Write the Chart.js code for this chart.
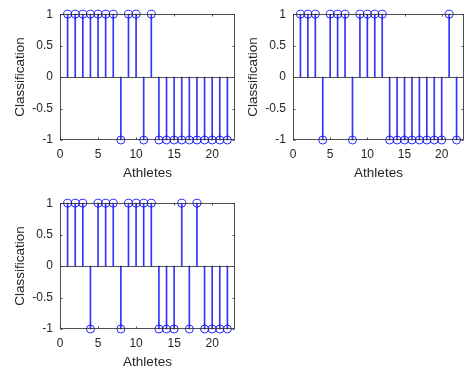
<!DOCTYPE html>
<html>
<head>
<meta charset="utf-8">
<script src="https://cdn.jsdelivr.net/npm/chart.js@4"></script>
<style>
html,body{margin:0;padding:0;background:#fff;overflow:hidden;width:466px;height:371px;}
.c{position:absolute;}
</style>
</head>
<body>
<div class="c" style="left:0;top:0;width:240px;height:185px"><canvas id="c1"></canvas></div>
<div class="c" style="left:233px;top:0;width:236px;height:185px"><canvas id="c2"></canvas></div>
<div class="c" style="left:0;top:189px;width:240px;height:185px"><canvas id="c3"></canvas></div>
<script>
// ---- data ----
const athletes = [1,2,3,4,5,6,7,8,9,10,11,12,13,14,15,16,17,18,19,20,21,22];
const classification1 = [1,1,1,1,1,1,1,-1,1,1,-1,1,-1,-1,-1,-1,-1,-1,-1,-1,-1,-1];
const classification2 = [1,1,1,-1,1,1,1,-1,1,1,1,1,-1,-1,-1,-1,-1,-1,-1,-1,1,-1];
const classification3 = [1,1,1,-1,1,1,1,-1,1,1,1,1,-1,-1,-1,1,-1,1,-1,-1,-1,-1];
const xTicks = [0,5,10,15,20];
const yTicks = [-1,-0.5,0,0.5,1];
const xLabel = 'Athletes';
const yLabel = 'Classification';

const AXIS = 'rgba(38,38,38,0.8)';
const TEXT = '#262626';
const STEM = 'rgba(0,0,255,0.8)';
const FONT = "'Liberation Sans', Arial, sans-serif";

const framePlugin = {
  id: 'frame',
  afterDatasetsDraw(chart) {
    const {ctx, chartArea: a, scales: {x, y}} = chart;
    const L = Math.round(a.left) + 0.5, R = Math.round(a.right) - 0.5;
    const T = Math.round(a.top) + 0.5, B = Math.round(a.bottom) - 0.5;
    ctx.save();
    ctx.strokeStyle = AXIS;
    ctx.lineWidth = 1;
    const y0 = Math.round(y.getPixelForValue(0)) + 0.5;
    ctx.beginPath(); ctx.moveTo(L, y0); ctx.lineTo(R, y0); ctx.stroke();
    ctx.strokeRect(L, T, R - L, B - T);
    const tl = 2;
    ctx.beginPath();
    xTicks.forEach(v => {
      const px = Math.round(x.getPixelForValue(v)) + 0.5;
      ctx.moveTo(px, B); ctx.lineTo(px, B - tl);
      ctx.moveTo(px, T); ctx.lineTo(px, T + tl);
    });
    yTicks.forEach(v => {
      const py = Math.round(y.getPixelForValue(v)) + 0.5;
      ctx.moveTo(L, py); ctx.lineTo(L + tl, py);
      ctx.moveTo(R, py); ctx.lineTo(R - tl, py);
    });
    ctx.stroke();
    ctx.restore();
  }
};

function makeChart(id, values, padRight) {
  const pts = athletes.map((a, i) => ({x: a, y: values[i]}));
  return new Chart(document.getElementById(id), {
    type: 'bar',
    data: {
      datasets: [
        {
          type: 'bar',
          data: pts,
          backgroundColor: STEM,
          borderWidth: 0,
          barThickness: 1,
          base: 0,
          clip: false,
          order: 2
        },
        {
          type: 'scatter',
          data: pts,
          pointStyle: 'circle',
          pointRadius: 4,
          pointBorderWidth: 1,
          pointBorderColor: 'rgba(0,0,255,0.85)',
          pointBackgroundColor: 'rgba(0,0,0,0)',
          showLine: false,
          clip: false,
          order: 1
        }
      ]
    },
    options: {
      responsive: true,
      maintainAspectRatio: false,
      animation: false,
      devicePixelRatio: 1,
      layout: {padding: {top: 10, right: padRight, bottom: 0, left: 0}},
      plugins: {legend: {display: false}, tooltip: {enabled: false}},
      scales: {
        x: {
          type: 'linear',
          min: 0, max: 23,
          offset: false,
          grid: {display: false, drawTicks: false, tickLength: 0},
          border: {display: false},
          afterBuildTicks: s => { s.ticks = xTicks.map(v => ({value: v})); },
          afterFit: s => { s.height = 45; },
          ticks: {color: TEXT, font: {family: FONT, size: 12}, padding: 7.5, maxRotation: 0, callback: v => String(v)},
          title: {display: true, text: xLabel, color: TEXT, font: {family: FONT, size: 13.5}, padding: {top: 0, bottom: 4}}
        },
        y: {
          type: 'linear',
          min: -1, max: 1,
          grid: {display: false, drawTicks: false, tickLength: 0},
          border: {display: false},
          afterBuildTicks: s => { s.ticks = yTicks.map(v => ({value: v})); },
          afterFit: s => { s.width = 60; },
          ticks: {color: TEXT, font: {family: FONT, size: 12}, padding: 7, callback: v => String(v)},
          title: {display: true, text: yLabel, color: TEXT, font: {family: FONT, size: 13.5}, padding: {top: 12, bottom: 0}}
        }
      }
    },
    plugins: [framePlugin]
  });
}

makeChart('c1', classification1, 5);
makeChart('c2', classification2, 0);
makeChart('c3', classification3, 5);
</script>
</body>
</html>
